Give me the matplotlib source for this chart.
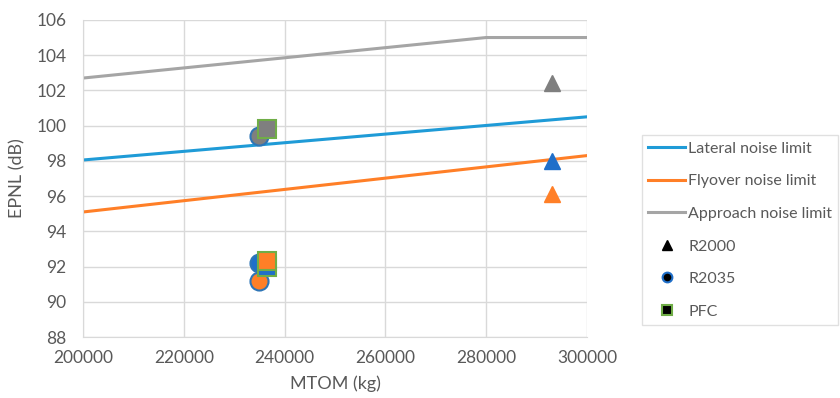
import matplotlib.pyplot as plt
from matplotlib.lines import Line2D

# noise limit lines
lat_x = [200000, 300000]
lat_y = [98.05, 100.5]
fly_x = [200000, 300000]
fly_y = [95.1, 98.3]
app_x = [200000, 280000, 300000]
app_y = [102.7, 105.0, 105.0]

# aircraft points (approach, lateral, flyover)
r2000_x = 293000
r2000_y = {'approach': 102.4, 'lateral': 98.0, 'flyover': 96.1}
r2035_x = 235000
r2035_y = {'approach': 99.4, 'lateral': 92.2, 'flyover': 91.2}
pfc_x = 236500
pfc_y = {'approach': 99.8, 'lateral': 91.95, 'flyover': 92.3}

c_lat = '#1F9BD7'
c_fly = '#FF7F27'
c_app = '#A5A5A5'
mk = {'approach': '#7F7F7F', 'lateral': '#1F6FC9', 'flyover': '#FF7F27'}
txt = '#595959'

plt.rcParams['font.family'] = ['Lato', 'DejaVu Sans']

fig = plt.figure(figsize=(8.4, 3.98), dpi=100)
ax = fig.add_axes([0.0988, 0.153, 0.6, 0.797])

ax.plot(lat_x, lat_y, color=c_lat, lw=2.2, label='Lateral noise limit', zorder=2)
ax.plot(fly_x, fly_y, color=c_fly, lw=2.2, label='Flyover noise limit', zorder=2)
ax.plot(app_x, app_y, color=c_app, lw=2.2, label='Approach noise limit', zorder=2)

order = ['approach', 'lateral', 'flyover']
for k in order:
    ax.plot(r2000_x, r2000_y[k], '^', ms=12, color=mk[k], mec=mk[k], zorder=3)
for k in order:
    ax.plot(r2035_x, r2035_y[k], 'o', ms=13, color=mk[k], mec='#2E75B6', mew=1.5, zorder=4)
for k in order:
    ax.plot(pfc_x, pfc_y[k], 's', ms=12.5, color=mk[k], mec='#70AD47', mew=1.5, zorder=5)

ax.set_xlim(200000, 300000)
ax.set_ylim(88, 106)
ax.set_xticks(range(200000, 300001, 20000))
ax.set_yticks(range(88, 107, 2))
ax.grid(color='#D9D9D9', lw=1)
ax.set_axisbelow(True)
for s in ['top', 'right']:
    ax.spines[s].set_visible(False)
for s in ['left', 'bottom']:
    ax.spines[s].set_color('#D9D9D9')
ax.tick_params(length=0, labelsize=12.5, colors=txt)
ax.tick_params(axis='y', pad=12)
ax.tick_params(axis='x', pad=9)
ax.set_xlabel('MTOM (kg)', fontsize=13, color=txt, labelpad=7)
ax.set_ylabel('EPNL (dB)', fontsize=13, color=txt, labelpad=8)

handles = [
    Line2D([], [], color=c_lat, lw=2.2, label='Lateral noise limit'),
    Line2D([], [], color=c_fly, lw=2.2, label='Flyover noise limit'),
    Line2D([], [], color=c_app, lw=2.2, label='Approach noise limit'),
    Line2D([], [], ls='', marker='^', ms=7, color='black', label='R2000'),
    Line2D([], [], ls='', marker='o', ms=7, color='black', mec='#1F6FC9', mew=1.5, label='R2035'),
    Line2D([], [], ls='', marker='s', ms=7, color='black', mec='#70AD47', mew=1.5, label='PFC'),
]
leg = fig.legend(handles=handles, loc='upper left', bbox_to_anchor=(0.764, 0.66),
                 fontsize=11.5, frameon=True, fancybox=False, edgecolor='#D9D9D9',
                 labelspacing=1.15, handlelength=2.3, handletextpad=0.2, borderpad=0.4,
                 borderaxespad=0)
for t in leg.get_texts():
    t.set_color(txt)

fig.savefig('out.png', dpi=100)
